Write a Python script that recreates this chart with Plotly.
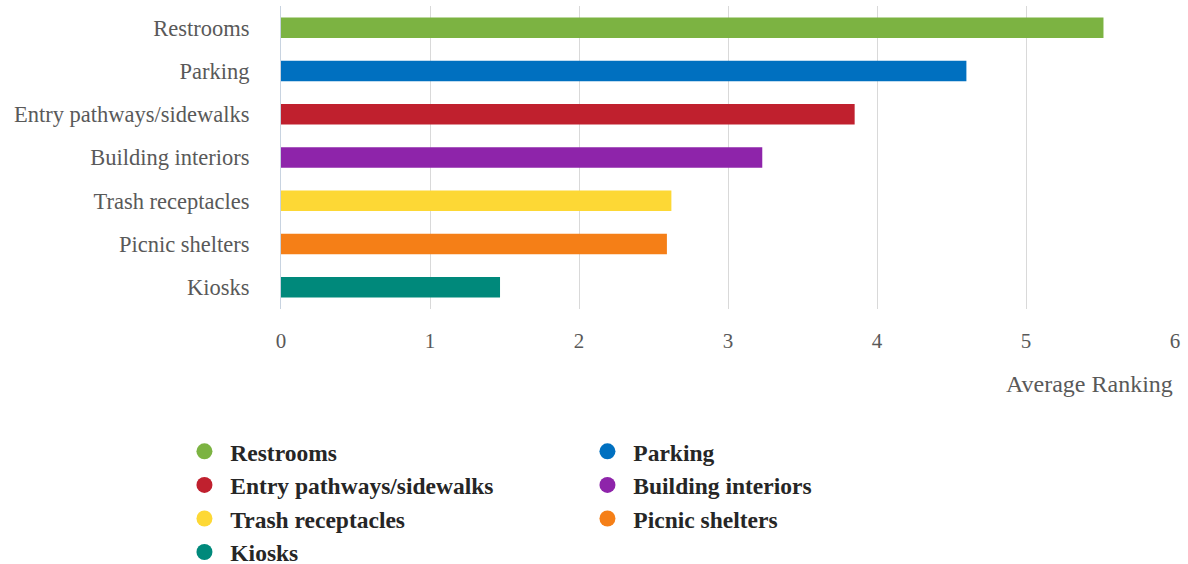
import plotly.graph_objects as go

categories = ["Restrooms", "Parking", "Entry pathways/sidewalks", "Building interiors",
              "Trash receptacles", "Picnic shelters", "Kiosks"]
values = [5.52, 4.60, 3.85, 3.23, 2.62, 2.59, 1.47]
colors = ["#7cb342", "#0070c0", "#c0202e", "#8e24aa", "#fdd835", "#f57f17", "#00897b"]
x_ticks = [0, 1, 2, 3, 4, 5, 6]
x_title = "Average Ranking"

fig = go.Figure()
fig.add_trace(go.Bar(
    y=categories, x=values, orientation="h",
    marker=dict(color=colors, line=dict(width=0)),
    showlegend=False,
))
for name, col in zip(categories, colors):
    fig.add_trace(go.Scatter(
        x=[None], y=[None], mode="markers", name="\u00a0" + name,
        marker=dict(color=col, size=16, symbol="circle"),
    ))

fig.update_layout(
    width=1188, height=564,
    margin=dict(l=281, r=13, t=6, b=255, autoexpand=False),
    plot_bgcolor="white", paper_bgcolor="white",
    bargap=0.526,
    font=dict(family="Liberation Serif", size=20, color="#595959"),
    showlegend=True,
    legend=dict(
        orientation="h", x=-0.108, xanchor="left", y=-0.398, yanchor="top",
        entrywidth=358, entrywidthmode="pixels",
        font=dict(family="Liberation Serif", size=23.5, color="#262626", weight="bold"),
        tracegroupgap=0, itemsizing="trace",
    ),
    annotations=[dict(
        text=x_title, xref="paper", yref="paper", x=1.0, y=-0.248,
        xanchor="right", yanchor="middle", showarrow=False,
        font=dict(family="Liberation Serif", size=24, color="#595959"),
    )],
)
fig.update_xaxes(
    range=[0, 6], tickvals=x_ticks, showgrid=True, gridcolor="#d9d9d9", gridwidth=1,
    zeroline=False, showline=False,
    ticks="outside", ticklen=13, tickcolor="rgba(0,0,0,0)",
    tickfont=dict(family="Liberation Serif", size=21, color="#595959"),
)
fig.update_yaxes(
    categoryorder="array", categoryarray=categories, range=[6.5, -0.5],
    showgrid=False, zeroline=False, showline=True, linecolor="#c8d3e0", linewidth=1,
    ticks="outside", ticklen=26, tickcolor="rgba(0,0,0,0)",
    tickfont=dict(family="Liberation Serif", size=22.5, color="#595959"),
)

fig.write_html("out.html", config={"displayModeBar": False},
               post_script="document.body.style.margin='0';")
